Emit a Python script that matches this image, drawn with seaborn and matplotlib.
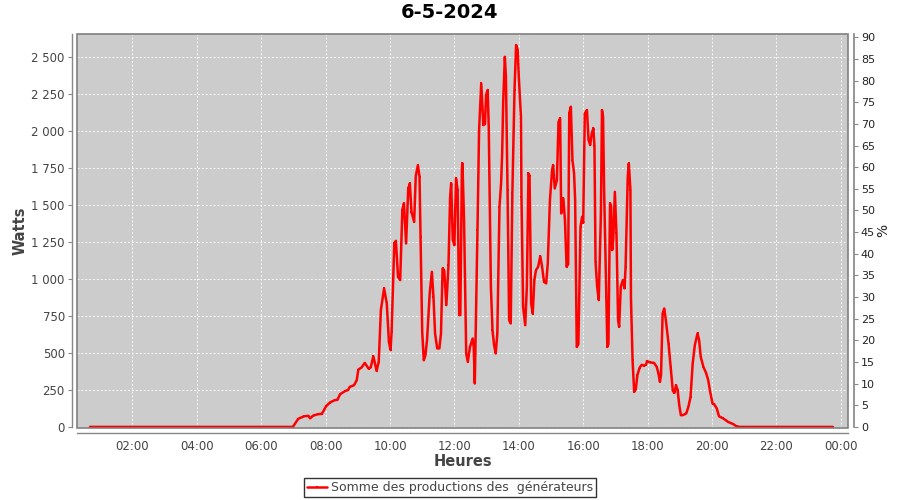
import matplotlib
matplotlib.use("Agg")
import matplotlib.pyplot as plt
from matplotlib.ticker import FuncFormatter
from matplotlib.lines import Line2D
from matplotlib.patches import Rectangle
import pandas as pd
import seaborn as sns

title = "6-5-2024"
series_name = "Somme des productions des  générateurs"
x_label = "Heures"
y_label = "Watts"
y2_label = "%"

times = [
    "00:41", "01:30", "02:30", "03:30", "04:30", "05:30", "06:30", "06:59",
    "07:09", "07:20", "07:28", "07:31", "07:37", "07:46", "07:53", "08:01",
    "08:08", "08:17", "08:22", "08:27", "08:36", "08:42", "08:45", "08:53",
    "08:58", "09:01", "09:07", "09:13", "09:20", "09:24", "09:29", "09:35",
    "09:39", "09:43", "09:49", "09:54", "09:58", "10:01", "10:03", "10:08",
    "10:11", "10:15", "10:19", "10:23", "10:26", "10:30", "10:34", "10:37",
    "10:40", "10:45", "10:48", "10:52", "10:55", "10:57", "11:00", "11:03",
    "11:06", "11:09", "11:14", "11:18", "11:21", "11:24", "11:28", "11:32",
    "11:35", "11:38", "11:41", "11:45", "11:49", "11:52", "11:54", "11:57",
    "12:00", "12:03", "12:06", "12:09", "12:11", "12:14", "12:15", "12:18",
    "12:22", "12:25", "12:29", "12:34", "12:36", "12:38", "12:43", "12:46",
    "12:50", "12:54", "12:57", "12:59", "13:02", "13:04", "13:08", "13:11",
    "13:14", "13:17", "13:20", "13:24", "13:27", "13:29", "13:31", "13:34",
    "13:36", "13:39", "13:42", "13:45", "13:48", "13:52", "13:55", "13:58",
    "14:00", "14:04", "14:05", "14:08", "14:12", "14:15", "14:18", "14:20",
    "14:23", "14:26", "14:29", "14:32", "14:36", "14:40", "14:43", "14:47",
    "14:51", "14:54", "14:58", "15:02", "15:04", "15:07", "15:11", "15:14",
    "15:17", "15:19", "15:23", "15:26", "15:29", "15:32", "15:34", "15:37",
    "15:40", "15:43", "15:45", "15:48", "15:51", "15:55", "15:58", "16:00",
    "16:03", "16:07", "16:10", "16:13", "16:16", "16:19", "16:21", "16:23",
    "16:26", "16:29", "16:33", "16:35", "16:37", "16:39", "16:43", "16:45",
    "16:47", "16:50", "16:52", "16:54", "16:56", "16:59", "17:02", "17:05",
    "17:07", "17:10", "17:14", "17:17", "17:19", "17:23", "17:25", "17:28",
    "17:29", "17:32", "17:35", "17:38", "17:41", "17:45", "17:49", "17:53",
    "17:57", "17:59", "18:05", "18:12", "18:17", "18:20", "18:23", "18:25",
    "18:28", "18:31", "18:34", "18:39", "18:43", "18:47", "18:50", "18:53",
    "18:56", "18:59", "19:02", "19:06", "19:12", "19:16", "19:20", "19:24",
    "19:28", "19:33", "19:36", "19:39", "19:44", "19:49", "19:53", "19:56",
    "20:01", "20:04", "20:09", "20:13", "20:21", "20:30", "20:40", "20:46",
    "20:52", "21:30", "22:30", "23:45",
]

watts = [
    0, 0, 0, 0, 0, 0, 0, 0,
    55, 72, 75, 58, 77, 86, 88, 140,
    165, 181, 183, 221, 242, 250, 271, 282,
    316, 388, 402, 433, 395, 402, 478, 379,
    440, 790, 937, 835, 575, 520, 643, 1241,
    1259, 1015, 993, 1467, 1512, 1241, 1613, 1647,
    1455, 1387, 1697, 1771, 1692, 1286, 643, 451,
    485, 587, 903, 1049, 880, 632, 531, 531,
    632, 1072, 1060, 824, 1094, 1557, 1647, 1264,
    1230, 1681, 1602, 756, 756, 1749, 1783, 1399,
    497, 440, 541, 598, 540, 294, 1331, 2008,
    2324, 2042, 2050, 2245, 2279, 2030, 948, 654,
    553, 497, 632, 1489, 1647, 1850, 2211, 2504,
    2369, 1602, 722, 700, 1580, 2279, 2583, 2549,
    2369, 2098, 1557, 812, 688, 948, 1715, 1700,
    835, 767, 993, 1060, 1083, 1155, 1094, 981,
    971, 1106, 1534, 1737, 1771, 1613, 1670, 2064,
    2087, 1444, 1546, 1399, 1083, 1100, 2121, 2166,
    1805, 1715, 1534, 541, 560, 1354, 1421, 1380,
    2121, 2143, 1940, 1907, 1986, 2020, 1900, 1117,
    948, 858, 1444, 2143, 2098, 1602, 880, 541,
    560, 1512, 1490, 1196, 1264, 1590, 1309, 722,
    677, 948, 993, 937, 1083, 1692, 1783, 1602,
    870, 450, 237, 255, 350, 400, 420, 415,
    420, 445, 436, 433, 406, 365, 305, 350,
    767, 801, 722, 564, 406, 244, 230, 282,
    248, 147, 79, 80, 91, 135, 203, 429,
    553, 632, 587, 474, 406, 365, 316, 248,
    158, 154, 124, 72, 57, 34, 18, 3,
    0, 0, 0, 0,
]

xtick_hours = [2, 4, 6, 8, 10, 12, 14, 16, 18, 20, 22, 24]
xtick_labels = ["02:00", "04:00", "06:00", "08:00", "10:00", "12:00",
                "14:00", "16:00", "18:00", "20:00", "22:00", "00:00"]
watt_ticks = [0, 250, 500, 750, 1000, 1250, 1500, 1750, 2000, 2250, 2500]
pct_ticks = [0, 5, 10, 15, 20, 25, 30, 35, 40, 45, 50, 55, 60, 65, 70, 75, 80, 85, 90]

sns.set_theme(style="white")
plt.rcParams["font.family"] = ["DejaVu Sans"]

hours = [int(t[:2]) + int(t[3:]) / 60 for t in times]
df = pd.DataFrame({"Heures": hours, "Watts": watts})

W, H = 900, 500
fig = plt.figure(figsize=(9, 5), dpi=100)
L, R, T, B = 77.3, 848.3, 34, 427.5
ax = fig.add_axes([L / W, 1 - B / H, (R - L) / W, (B - T) / H])
ax.set_facecolor("#cccccc")

sns.lineplot(data=df, x="Heures", y="Watts", ax=ax, color="#ff0000",
             linewidth=1.8, marker="s", markersize=1.8, markeredgewidth=0,
             estimator=None, sort=False, legend=False, zorder=3)

ax.set_xlim(0.289, 24.233)
ax.set_ylim(-4, 2658)
ax.set_xticks(xtick_hours)
ax.set_xticklabels(xtick_labels)
ax.set_yticks(watt_ticks)
ax.yaxis.set_major_formatter(FuncFormatter(lambda v, p: f"{int(v):,}".replace(",", " ")))

ax.grid(True, color="white", linestyle=(0, (2, 2)), linewidth=0.7, alpha=0.85)
ax.set_axisbelow(True)

for s in ["top", "right"]:
    ax.spines[s].set_visible(False)
for s in ["left", "bottom"]:
    ax.spines[s].set_position(("outward", 4))
    ax.spines[s].set_color("#888888")
    ax.spines[s].set_linewidth(1)
ax.add_patch(Rectangle((0, 0), 1, 1, transform=ax.transAxes, fill=False,
                       edgecolor="#808080", linewidth=1.2, zorder=5, clip_on=False))

tick_kw = dict(direction="out", length=3, width=0.8, color="#888888",
               labelsize=8.5, labelcolor="#444444", pad=2)
ax.tick_params(axis="both", **tick_kw)
ax.tick_params(axis="x", pad=2)

ax.set_xlabel(x_label, fontsize=10.5, fontweight="bold", color="#444444", labelpad=1)
ax.set_ylabel(y_label, fontsize=10.5, fontweight="bold", color="#444444", labelpad=3)

ax2 = ax.twinx()
ax2.set_ylim(-0.14, 90.76)
ax2.set_yticks(pct_ticks)
ax2.grid(False)
for s in ["top", "left", "bottom"]:
    ax2.spines[s].set_visible(False)
ax2.spines["right"].set_position(("outward", 4))
ax2.spines["right"].set_color("#888888")
ax2.tick_params(axis="y", **tick_kw)
ax2.tick_params(axis="y", labelcolor="#222222", labelsize=8)
ax2.set_ylabel(y2_label, fontsize=10, color="#222222", labelpad=1)

fig.text(0.5, 1 - 12 / H, title, ha="center", va="center",
         fontsize=14, fontweight="bold", color="#000000")

handle = Line2D([], [], color="#ff0000", linewidth=1.8, marker="s",
                markersize=1.8, markeredgewidth=0)
leg = fig.legend(handles=[handle], labels=[series_name], loc="center",
                 bbox_to_anchor=(450 / W, 1 - 487.5 / H), frameon=True,
                 fancybox=False, edgecolor="black", fontsize=9,
                 handlelength=1.6, handletextpad=0.3, borderpad=0.25,
                 borderaxespad=0)
leg.get_frame().set_linewidth(1)
for t in leg.get_texts():
    t.set_color("#444444")

fig.savefig("out.png", dpi=100)
